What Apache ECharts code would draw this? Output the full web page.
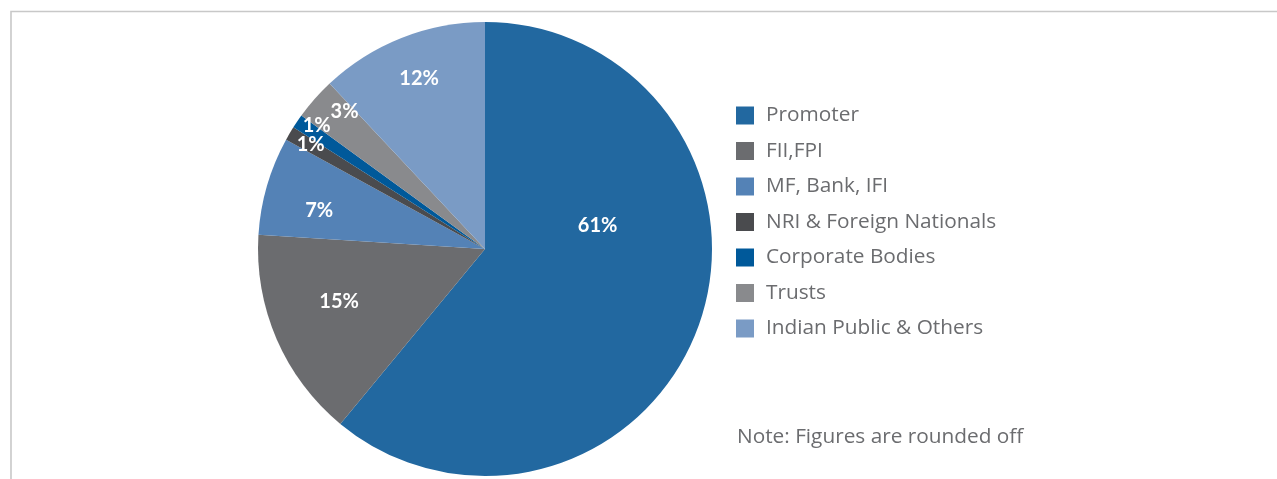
<!DOCTYPE html>
<html>
<head>
<meta charset="utf-8">
<title>Shareholding Pattern</title>
<script src="https://cdn.jsdelivr.net/npm/echarts@6/dist/echarts.min.js"></script>
<style>
  html, body { margin: 0; padding: 0; background: #ffffff; }
  #chart { width: 1277px; height: 479px; }
</style>
</head>
<body>
<div id="chart"></div>
<script>
// Shareholding categories and their percentage share
const categories = [
  'Promoter',
  'FII,FPI',
  'MF, Bank, IFI',
  'NRI & Foreign Nationals',
  'Corporate Bodies',
  'Trusts',
  'Indian Public & Others'
];
const shares = [61, 15, 7, 1, 1, 3, 12];

const sliceColors = ['#2268a0', '#6b6c6f', '#5482b6', '#4a4b4e', '#00599a', '#898a8d', '#7a9bc5'];

// Nudges for the in-slice percentage labels (pixels from the default inside spot)
const labelNudges = [
  [3, -63], [-39, 6], [-54, -6], [-74, -45], [-72, -58], [-53, -60], [-23, -62]
];

const chart = echarts.init(document.getElementById('chart'), null, { renderer: 'canvas' });

const pieData = categories.map((name, i) => ({
  name: name,
  value: shares[i],
  itemStyle: { color: sliceColors[i] }
}));

chart.setOption({
  animation: false,
  backgroundColor: '#ffffff',
  legend: {
    orient: 'vertical',
    left: 736,
    top: 105,
    padding: 0,
    itemWidth: 18,
    itemHeight: 18,
    itemGap: 14.5,
    icon: 'rect',
    selectedMode: false,
    data: categories,
    textStyle: {
      fontFamily: 'Open Sans',
      fontSize: 20.8,
      color: '#6b6c6f',
      lineHeight: 18,
      padding: [0, 0, 0, 7]
    }
  },
  graphic: [
    {
      type: 'polyline',
      silent: true,
      shape: { points: [[11, 479], [11, 11.5], [1277, 11.5]] },
      style: { stroke: '#c8c8c8', lineWidth: 1.6, fill: null }
    },
    {
      type: 'text',
      left: 737,
      top: 427,
      silent: true,
      style: {
        text: 'Note: Figures are rounded off',
        fontFamily: 'Open Sans',
        fontSize: 20.8,
        fill: '#6b6c6f'
      }
    }
  ],
  series: [
    {
      type: 'pie',
      center: [485, 249],
      radius: [0, 227],
      startAngle: 90,
      clockwise: true,
      avoidLabelOverlap: false,
      emphasis: { disabled: true },
      itemStyle: { borderWidth: 0 },
      label: {
        show: true,
        position: 'inside',
        color: '#ffffff',
        fontFamily: 'Lato',
        fontWeight: 'bold',
        fontSize: 20,
        formatter: p => Math.round(p.value) + '%'
      },
      labelLine: { show: false },
      labelLayout: function (params) {
        const n = labelNudges[params.dataIndex];
        return { dx: n[0], dy: n[1] };
      },
      data: pieData
    }
  ]
});
</script>
</body>
</html>
